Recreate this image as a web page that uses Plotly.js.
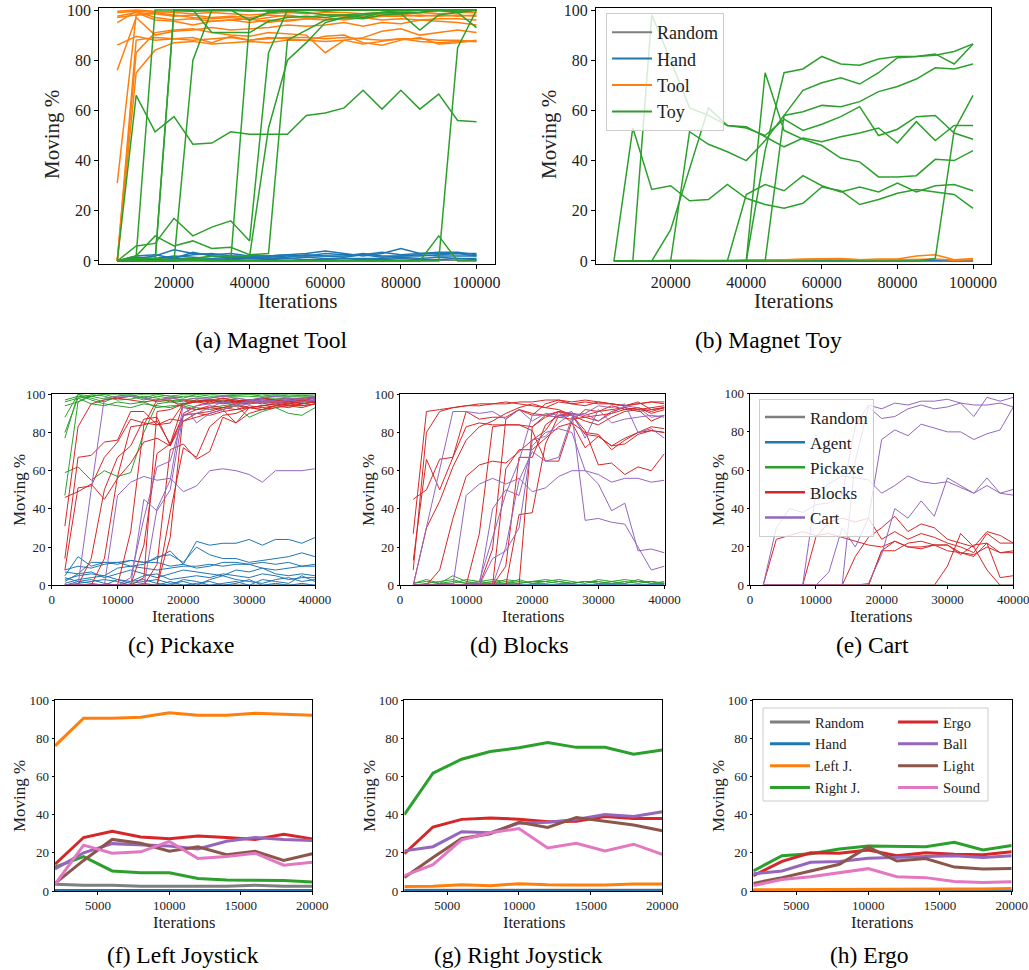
<!DOCTYPE html>
<html><head><meta charset="utf-8">
<script src="https://cdn.plot.ly/plotly-3.0.1.min.js"></script>
<style>html,body{margin:0;padding:0;background:#fff}</style>
</head><body><div id="chart" style="width:1029px;height:970px"></div>
<script>
// ---------------- x values ----------------
const X_MAG = [5000,10000,15000,20000,25000,30000,35000,40000,45000,50000,55000,60000,65000,70000,75000,80000,85000,90000,95000,100000];
const X_40 = [2000,4000,6000,8000,10000,12000,14000,16000,18000,20000,22000,24000,26000,28000,30000,32000,34000,36000,38000,40000];
const X_20 = [2000,4000,6000,8000,10000,12000,14000,16000,18000,20000];

// ---------------- tick labels ----------------
const TICKS_MAG = [20000,40000,60000,80000,100000];
const TICKS_40 = [0,10000,20000,30000,40000];
const TICKS_20 = [5000,10000,15000,20000];
const TICKS_Y = [0,20,40,60,80,100];

// ---------------- (a) Magnet Tool ----------------
const A_RANDOM = [[0.2,0.3,0.2,0.3,0.2,0.3,0.2,0.3,0.2,0.2,0.3,0.2,0.3,0.2,0.3,0.2,0.3,0.2,0.2,0.3]];
const A_HAND = [
 [0,1,2,4.5,3,2.5,3,2,2,2.5,3,4,3,2,3,5,3,3,3,3],
 [0,2,2.5,1,3.5,2,1.5,2,2,2.5,2,3,2.5,2.5,3.5,2.5,3,3.5,3.5,2.5],
 [0,0.5,1,2,1.5,1,1.5,1.5,1.5,2,2,2,2,3,2,2,2.5,2,2,2],
 [0,1,0.5,1,1,0.5,1,1,1,1,1.5,1,1,1,1,1.5,1,1.5,1,1],
 [0,0,0.5,0.5,0.5,0.5,0.5,1,0.5,1,0.5,0.5,1,0.5,0.5,1,0.5,0.5,1,0.5],
 [0,1.5,1,1.5,2.5,3,2,1.5,1,1.5,2.5,2,1.5,2.5,1.5,2,2,2.5,3,2]
];
const A_TOOL = [
 [31,98,99,99.5,99.5,99.6,99.7,99.8,99.8,99.8,99.9,99.9,99.9,100,100,100,100,100,100,100],
 [76,97,90,91.5,92,93,92,92.5,93,94,93.5,94,95,93.5,95,94.5,96,95.5,95,94],
 [86,89.5,88,88.5,88,88.5,89,88,88.5,89,89,88.5,89,88.5,88,88.5,88.5,88,88,87.5],
 [95,99.5,97,96,96.5,95.5,96,96.5,95,96,96.5,96,96.5,97,96,96.5,96,96.5,96.5,96],
 [97.5,99,96,95.5,94,95.5,96,95,96,95.5,96.5,97,96,97,97.5,97.5,98,97.5,98,97.5],
 [0,75,84,87,87.5,86.5,87,87.5,87,88,88,87.5,88,86.5,87.5,88.5,87.5,87,87.5,87.5],
 [0,83,91,92,92.5,91,90,89.5,91,90.5,90,83,88,89,91.5,92.5,90,91,92,91],
 [97,98,98.5,97.5,98,97,97.5,97,98,97.5,97,98,97.5,97,97.5,98,97.5,98,97.5,98],
 [99,99.5,99,98,97,96.5,97,96,97,98,97,98,98,97.5,98.5,98,99,98.5,99,99],
 [0,88,89,88.5,89,87,89.5,88,89,88.5,88,89.5,90,87,86,88,89,86.5,87,88],
 [99.5,100,99.5,99,98.5,99,98.5,98,98.5,99,98.5,99,99,98.5,99,99.5,99,99.5,99.5,99]
];
const A_TOY = [
 [0,66,51.5,57.5,46.5,47,51.5,50.5,50.5,50.5,58,59,61,68,60.5,68,60.5,66.5,56,55.5],
 [0,2,100,100,99.5,100,100,100,99.5,100,100,100,100,100,100,100,100,100,100,100],
 [0,0,0,100,100,100,100,96,99,99.5,99,98,98,97,99,98.5,92,98,99,93],
 [0,0,0,0,80,100,100,99.5,100,100,100,100,100,100,100,100,100,100,100,100],
 [0,0,0,100,100,91,91,91,95.5,97,97.5,97,98,98.5,99,99,99,100,99,100],
 [0,2,10,6,8,5,5.5,2.5,3,88,92,96,97,96.5,98,98.5,99,100,99,100],
 [0,6,7,17,10,13.5,16,8,83,100,100,99.5,100,100,100,100,100,100,100,100],
 [0,0,0,0,1,0.5,0,96,99,100,100,100,100,100,100,100,100,100,100,100],
 [0,1,1,0.5,1,2,2,2,53,80,87,95,97,98,99,100,100,100,100,100],
 [0,0.5,0,0,0.5,0,0,0,0,0,0,0,0,0,0,0,0,10,0,0],
 [0,0,0,0,0,0,0,0,0,0,0,0,0,0,0,0,0,0,85,100]
];

// ---------------- (b) Magnet Toy ----------------
const B_RANDOM = [[0,0,0,0,0,0,0,0,0,0,0,0,0,0,0,0,0,0,0,0]];
const B_HAND = [
 [0,0.1,0.2,0.1,0.2,0.1,0.2,0.2,0.1,0.2,0.2,0.1,0.2,0.2,0.1,0.2,0.2,0.1,0.2,0.2],
 [0,0.2,0.1,0.2,0.1,0.2,0.1,0.1,0.2,0.1,0.1,0.2,0.1,0.1,0.2,0.1,0.1,0.2,0.1,0.1]
];
const B_TOOL = [
 [0,0,0,0,0,0,0,0.5,0.5,0.5,0.8,1,1,0.5,0.8,0.8,2,2.5,0.5,1],
 [0,0,0,0,0,0.2,0.3,0.2,0.3,0.5,0.5,0.8,0.6,0.3,0.4,0.5,0.6,0.8,0.3,0.5]
];
const B_TOY = [
 [0,53,28.5,30,24,24.5,30.5,25,22.5,21,23,29.5,28,22.5,24.5,27,28.5,27.5,26.5,21],
 [0,0,98,80,61,58,54,53,50,56.5,52,54.5,57.5,61.5,50,52.5,57.5,58,51,48.5],
 [0,0,0,12.5,37,61,54,53.5,49.5,45.5,49,47.5,49.5,51,53,47,55.5,48,54,54],
 [0,0,0,0,51.5,46.5,43.5,40,48,58,59.5,62,61.5,63.5,67.5,69.5,72.5,77,76.5,78.5],
 [0,0,0,0,0,0,0,26.5,30.5,28,34,30,27.5,29.5,27.5,31,27.5,30,30.5,28],
 [0,0,0,0,0,0,0,0,75,52,48.5,46,41,39.5,33.5,33.5,34,40.5,40,44],
 [0,0,0,0,0,0,0,0,44,75,76.5,81.5,78.5,78,80.5,81.5,81.5,82,83.5,86.5],
 [0,0,0,0,0,0,0,0,0,58,68,71,73,70.5,75,81,81.5,82.5,78.5,86.5],
 [0,0,0,0,0,0,0,0,0,0,0,0,0,0,0,0,0,1,52,66]
];

// ---------------- (c) Pickaxe ----------------
const C_RANDOM = [[0.3,0.2,0.3,0.2,0.3,0.2,0.3,0.2,0.3,0.2,0.3,0.2,0.3,0.2,0.3,0.2,0.3,0.2,0.3,0.2]];
const C_AGENT = [
 [5,15,10,12,12,13,12,14,18,11,23,21,22,22,24,21,24,24,22,25],
 [8,10,9,11,12,10,11,15,16,12,20,16,14,14,12,13,14,15,17,15],
 [7,6,12,12,11,13,12,12,10,11,9,10,12,12,11,9,8,9,10,11],
 [3,5,6,5,9,10,9,8,9,10,10,11,10,11,11,12,11,12,10,10],
 [2,6,7,4,6,8,6,4,6,8,7,6,5,8,7,9,6,5,6,5],
 [1,3,4,5,3,2,5,6,3,4,5,4,6,5,4,6,5,3,4,4],
 [0,2,1,0,3,1,2,3,1,2,0,3,5,3,2,1,3,4,2,3],
 [0,1,2,3,2,0,1,0,2,0,1,2,0,1,3,0,1,0,1,0],
 [4,2,3,1,0,2,3,1,0,3,2,0,1,2,0,3,2,1,5,2]
];
const C_PICKAXE = [
 [47,96,99,100,100,99.5,100,100,99,100,100,100,99.5,100,100,100,99.5,100,100,100],
 [59,62,55,60,57,59,80,95,96,97,98,97,96,98,97,98,98,97.5,98,98.5],
 [77,100,97,95,94,93,95,94,93,95,93,92,93,94,88,91,93,90,89,93],
 [80,98,99,97.5,98,99,98,96,97,96,97,96.5,97,96,97,97.5,97,96.5,97,98],
 [88,100,99,100,98,99,97,99,98,99,99,98,99,99,99,98.5,99,99,99,99],
 [94,96,100,99,97,97.5,99,98,96,95,96,97,95.5,96,95,96,96,95,96,96],
 [97,99,98,96,99,100,98,100,99,98,100,99,99,99.5,100,99,100,99,99.5,99],
 [96,98,95,94,96,95,96,93,94,94,92,93,94,95,93,94,95,94,94,95]
];
const C_BLOCKS = [
 [31,83,95,97,98,97,96,97,98,97,96,97,98,96,97,98,97,97,98,98],
 [46,49,53,45,56,64,75,77,73,86,90,89,91,92,93,94,95,94,95,96],
 [14,67,68,75,76,91,91,84,87,86,88,90,92,85,93,92,94,95,94,95],
 [8,51,52,67,75,87,85,84,85,95,96,97,96,97,96,95,96,97,96,97],
 [0,0,14,50,67,73,87,88,73,89,92,93,92,94,93,94,95,96,95,96],
 [0,0,0,14,57,83,84,86,74,89,90,91,93,92,94,93,94,95,96,97],
 [0,0,0,0,0,28,84,97,97,93,92,94,93,95,96,97,96,95,97,96],
 [0,0,0,0,0,0,21,69,74,95,97,96,98,97,96,98,97,98,97,98],
 [0,0,0,0,0,0,0,11,71,74,66,70,88,85,90,92,94,93,95,96],
 [0,0,0,0,0,0,0,0,38,72,67,83,89,90,93,92,93,94,93,95],
 [0,0,0,0,0,0,4,91,92,95,96,95,97,96,97,96,97,96,97,97],
 [0,0,0,0,0,0,0,0,25,90,94,96,95,96,95,96,97,96,97,98]
];
const C_CART = [
 [0,0,0,0,47,54,57,55,56,49,52,60,61,60,58,54,60,60,60,61],
 [0,0,50,98,99,99,98,97,98,97,98,98,99,98,97,98,99,98,98,99],
 [0,0,0,0,0,0,45,39,50,90,94,95,96,95,96,97,96,97,96,97],
 [0,0,0,0,0,0,0,40,55,95,85,90,92,94,95,96,95,97,96,97],
 [0,0,0,0,0,4,35,62,65,89,90,93,96,94,97,96,97,98,97,98]
];

// ---------------- (d) Blocks ----------------
const D_RANDOM = [[0.2,0.2,0.3,0.2,0.2,0.3,0.2,0.2,0.3,0.2,0.2,0.3,0.2,0.2,0.3,0.2,0.2,0.3,0.2,0.2]];
const D_AGENT = [[0.3,0.2,0.4,0.3,0.2,0.3,0.4,0.3,0.2,0.3,0.4,0.3,0.2,0.3,0.4,0.3,0.2,0.3,0.4,0.3]];
const D_PICKAXE = [
 [1,3,1,5,2,1,2,1,3,1,2,3,2,1,3,2,1,3,1,2],
 [0,1,2,3,1,2,3,2,1,2,3,2,1,2,1,2,3,2,1,1],
 [1,2,1,1,3,2,1,3,2,1,1,2,1,2,2,1,2,1,2,1],
 [0,0,1,2,1,1,1,1,1,2,2,1,1,2,1,1,1,2,2,1]
];
const D_BLOCKS = [
 [27,91,92,93,94,95,95,96,95,94,93,96,95,96,95,95,94,95,96,96],
 [8,80,91,93,94,94,95,95,96,96,97,97,95,94,96,95,94,95,96,95],
 [45,50,66,67,83,85,84,84,84,83,89,91,90,89,91,92,93,91,92,93],
 [13,66,50,67,91,87,88,88,92,90,89,88,87,88,89,90,92,93,90,92],
 [0,30,44,62,76,83,86,90,93,95,93,92,89,86,84,88,91,92,86,89],
 [0,0,8,35,57,63,65,64,70,76,81,91,89,79,78,73,77,80,81,80],
 [0,0,0,0,0,27,83,84,84,81,65,65,86,92,91,94,92,93,91,93],
 [0,0,0,0,0,0,0,61,71,71,77,83,85,80,79,71,76,80,83,82],
 [0,0,0,0,0,0,0,0,37,38,74,89,89,81,63,64,58,62,60,69],
 [0,0,0,0,0,0,0,10,67,67,84,89,90,88,86,91,93,92,93,94],
 [0,0,0,0,0,0,0,0,0,83,88,91,85,72,78,73,74,79,81,80],
 [0,0,0,0,0,0,19,87,92,89,95,97,96,97,96,95,94,96,92,93]
];
const D_CART = [
 [0,30,60,91,91,90,91,87,92,86,90,89,91,77,92,85,87,88,89,88],
 [0,0,0,0,47,53,56,53,56,49,51,57,60,60,58,54,56,56,54,55],
 [0,0,0,0,0,0,40,50,47,73,80,82,80,60,53,39,43,18,19,17],
 [0,0,0,0,0,0,14,18,30,76,78,85,90,34,35,33,32,20,8,10],
 [0,0,0,0,0,0,0,20,55,70,65,67,88,90,94,93,95,80,82,77],
 [0,0,0,0,0,2,25,48,65,89,89,88,89,90,86,90,94,93,88,89]
];

// ---------------- (e) Cart ----------------
const E_RANDOM = [[0,0,0,0,0,0,0,0,0,0,0,0,0,0,0,0,0,0,0,0]];
const E_AGENT = [[0,0,0,0,0,0,0,0,0,0,0,0,0,0,0,0,0,0,0,0]];
const E_PICKAXE = [[0,0,0,0,0,0,0,0,0,0,0,0,0,0,0,0,0,0,0,0]];
const E_BLOCKS = [
 [0,24,26,28,26,27,25,23,21,20,23,20,19,21,21,17,16,20,17,18],
 [0,0,0,0,25,33,35,33,35,24,28,24,27,25,22,20,17,27,22,22],
 [0,0,0,0,0,0,0,15,25,30,36,28,32,30,24,22,20,28,26,22],
 [0,0,0,0,0,0,0,0,0,18,18,22,23,21,21,16,21,22,17,17],
 [0,0,0,0,0,0,0,0,0,18,23,20,20,21,18,17,15,22,4,5],
 [0,0,0,0,0,0,0,0,0,0,0,0,0,0,10,27,20,8,0,0]
];
const E_CART = [
 [0,30,40,38,42,43,47,83,94,92,95,94,96,96,97,95,94,94,95,93],
 [0,0,0,0,0,7,30,20,35,76,81,78,84,82,80,80,76,79,81,93],
 [0,0,0,0,48,53,57,56,55,48,52,57,54,53,54,51,48,52,48,47],
 [0,0,0,0,0,0,0,0,1,16,40,35,44,36,56,52,48,56,48,50],
 [0,0,0,0,0,0,0,65,93,87,88,92,94,92,93,95,88,98,96,98]
];

// ---------------- (f) Left Joystick ----------------
const F_RANDOM = [3.5,3,3,2.5,2.5,2.5,2.5,3,2.5,2.5];
const F_HAND   = [0.3,0.3,0.3,0.3,0.3,0.3,0.3,0.3,0.3,0.3];
const F_LEFTJ  = [76,90.5,90.5,91,93.3,92,92,93,92.5,92];
const F_RIGHTJ = [12.5,18,10.5,9.5,9.5,6.5,5.7,5.5,5.5,4.7];
const F_ERGO   = [14,28,31.3,28.3,27.3,28.8,28,27,29.7,27.3];
const F_BALL   = [11.5,20,24.8,24,23.5,22,26,28,27,26.5];
const F_LIGHT  = [4,16,27,25,20.8,23.2,19,20.8,16,19.5];
const F_SOUND  = [3.5,24,19.8,20.5,26,17,18,19.8,13.5,15];

// ---------------- (g) Right Joystick ----------------
const G_RANDOM = [0.4,0.4,0.4,0.4,0.4,0.4,0.4,0.4,0.4,0.4];
const G_HAND   = [0.2,0.2,0.2,0.2,0.2,0.2,0.2,0.2,0.2,0.2];
const G_LEFTJ  = [2.3,2.5,3.3,2.8,3.8,3.3,3.2,3.2,3.6,3.6];
const G_RIGHTJ = [40,61.7,69,73,75,77.7,75.2,75.3,71.6,73.8];
const G_ERGO   = [19.5,33.5,37.5,38.2,37.6,36.3,36.5,39,38,38];
const G_BALL   = [21,23.2,31,30.5,35.5,36,37.5,40,39,41.5];
const G_LIGHT  = [7,17.5,27.5,30,36,33.3,38.5,36.5,34.5,31.5];
const G_SOUND  = [8,13.8,26.8,30.5,32.7,22.5,25,21,24.5,19.2];

// ---------------- (h) Ergo ----------------
const H_RANDOM = [0.3,0.3,0.3,0.3,0.3,0.3,0.3,0.3,0.3,0.3];
const H_HAND   = [0.2,0.2,0.2,0.2,0.2,0.2,0.2,0.2,0.2,0.2];
const H_LEFTJ  = [0.7,0.7,0.8,0.8,0.9,0.9,1,1,1.1,1.3];
const H_RIGHTJ = [10.5,18.5,19.5,22,23.5,23.5,23.2,25.5,21.5,23.8];
const H_ERGO   = [8,15.5,20,19.8,21.5,18.5,20,19.2,19,20.5];
const H_BALL   = [9,10.5,15,15.5,17.2,17.5,18,18.5,17.5,18.5];
const H_LIGHT  = [4,7,10.5,14,23,15.7,17,12.5,11.5,11.8];
const H_SOUND  = [2.8,6,7.5,9.5,11.7,7.5,7,5,4.5,4.8];

// ---------------- styling ----------------
const W = 1029, H = 970;
const FONT = 'Liberation Serif, Times New Roman, serif';
const COL = {gray:'#7f7f7f', blue:'#1f77b4', orange:'#ff7f0e', green:'#2ca02c', red:'#d62728', purple:'#9467bd', brown:'#8c564b', pink:'#e377c2'};
const px = v => v / W;
const py = v => 1 - v / H;

const traces = [];
function sfx(k){ return k === 1 ? '' : String(k); }
function addRuns(runs, xs, k, color, width, name){
  runs.forEach(ys => traces.push({
    type:'scatter', mode:'lines', x: xs, y: ys,
    xaxis:'x'+sfx(k), yaxis:'y'+sfx(k),
    line:{color: color, width: width}, name: name,
    showlegend: false, hoverinfo:'skip'
  }));
}
function addOne(ys, xs, k, color, width, name){ addRuns([ys], xs, k, color, width, name); }
// legend key (no data points; only the legend sample)
function addKey(k, color, width, name, legend){
  traces.push({type:'scatter', mode:'lines', x:[null], y:[null], xaxis:'x'+sfx(k), yaxis:'y'+sfx(k),
    line:{color: color, width: width}, name: name, legend: legend, showlegend: true, hoverinfo:'skip'});
}

// (a)
addRuns(A_RANDOM, X_MAG, 1, COL.gray, 1.5, 'Random');
addRuns(A_HAND, X_MAG, 1, COL.blue, 1.5, 'Hand');
addRuns(A_TOOL, X_MAG, 1, COL.orange, 1.5, 'Tool');
addRuns(A_TOY, X_MAG, 1, COL.green, 1.5, 'Toy');
// (b)
addRuns(B_RANDOM, X_MAG, 2, COL.gray, 1.5, 'Random');
addRuns(B_HAND, X_MAG, 2, COL.blue, 1.5, 'Hand');
addRuns(B_TOOL, X_MAG, 2, COL.orange, 1.5, 'Tool');
addRuns(B_TOY, X_MAG, 2, COL.green, 1.5, 'Toy');
addKey(2, COL.gray, 2, 'Random', 'legend');
addKey(2, COL.blue, 2, 'Hand', 'legend');
addKey(2, COL.orange, 2, 'Tool', 'legend');
addKey(2, COL.green, 2, 'Toy', 'legend');
// (c)
addRuns(C_RANDOM, X_40, 3, COL.gray, 1, 'Random');
addRuns(C_AGENT, X_40, 3, COL.blue, 1, 'Agent');
addRuns(C_PICKAXE, X_40, 3, COL.green, 1, 'Pickaxe');
addRuns(C_BLOCKS, X_40, 3, COL.red, 1, 'Blocks');
addRuns(C_CART, X_40, 3, COL.purple, 1, 'Cart');
// (d)
addRuns(D_RANDOM, X_40, 4, COL.gray, 1, 'Random');
addRuns(D_AGENT, X_40, 4, COL.blue, 1, 'Agent');
addRuns(D_PICKAXE, X_40, 4, COL.green, 1, 'Pickaxe');
addRuns(D_BLOCKS, X_40, 4, COL.red, 1, 'Blocks');
addRuns(D_CART, X_40, 4, COL.purple, 1, 'Cart');
// (e)
addRuns(E_RANDOM, X_40, 5, COL.gray, 1, 'Random');
addRuns(E_AGENT, X_40, 5, COL.blue, 1, 'Agent');
addRuns(E_PICKAXE, X_40, 5, COL.green, 1, 'Pickaxe');
addRuns(E_BLOCKS, X_40, 5, COL.red, 1, 'Blocks');
addRuns(E_CART, X_40, 5, COL.purple, 1, 'Cart');
addKey(5, COL.gray, 2.5, 'Random', 'legend2');
addKey(5, COL.blue, 2.5, 'Agent', 'legend2');
addKey(5, COL.green, 2.5, 'Pickaxe', 'legend2');
addKey(5, COL.red, 2.5, 'Blocks', 'legend2');
addKey(5, COL.purple, 2.5, 'Cart', 'legend2');
// (f)
const LW = 3;
addOne(F_RANDOM, X_20, 6, COL.gray, LW, 'Random');
addOne(F_HAND, X_20, 6, COL.blue, LW, 'Hand');
addOne(F_LEFTJ, X_20, 6, COL.orange, LW, 'Left J.');
addOne(F_RIGHTJ, X_20, 6, COL.green, LW, 'Right J.');
addOne(F_ERGO, X_20, 6, COL.red, LW, 'Ergo');
addOne(F_BALL, X_20, 6, COL.purple, LW, 'Ball');
addOne(F_LIGHT, X_20, 6, COL.brown, LW, 'Light');
addOne(F_SOUND, X_20, 6, COL.pink, LW, 'Sound');
// (g)
addOne(G_RANDOM, X_20, 7, COL.gray, LW, 'Random');
addOne(G_HAND, X_20, 7, COL.blue, LW, 'Hand');
addOne(G_LEFTJ, X_20, 7, COL.orange, LW, 'Left J.');
addOne(G_RIGHTJ, X_20, 7, COL.green, LW, 'Right J.');
addOne(G_ERGO, X_20, 7, COL.red, LW, 'Ergo');
addOne(G_BALL, X_20, 7, COL.purple, LW, 'Ball');
addOne(G_LIGHT, X_20, 7, COL.brown, LW, 'Light');
addOne(G_SOUND, X_20, 7, COL.pink, LW, 'Sound');
// (h)
addOne(H_RANDOM, X_20, 8, COL.gray, LW, 'Random');
addOne(H_HAND, X_20, 8, COL.blue, LW, 'Hand');
addOne(H_LEFTJ, X_20, 8, COL.orange, LW, 'Left J.');
addOne(H_RIGHTJ, X_20, 8, COL.green, LW, 'Right J.');
addOne(H_ERGO, X_20, 8, COL.red, LW, 'Ergo');
addOne(H_BALL, X_20, 8, COL.purple, LW, 'Ball');
addOne(H_LIGHT, X_20, 8, COL.brown, LW, 'Light');
addOne(H_SOUND, X_20, 8, COL.pink, LW, 'Sound');
addKey(8, COL.gray, LW, 'Random', 'legend3');
addKey(8, COL.blue, LW, 'Hand', 'legend3');
addKey(8, COL.orange, LW, 'Left J.', 'legend3');
addKey(8, COL.green, LW, 'Right J.', 'legend3');
addKey(8, COL.red, LW, 'Ergo', 'legend4');
addKey(8, COL.purple, LW, 'Ball', 'legend4');
addKey(8, COL.brown, LW, 'Light', 'legend4');
addKey(8, COL.pink, LW, 'Sound', 'legend4');

// ---------------- panels (pixel boxes) ----------------
const PANELS = [
 {k:1, x:[99.3,494.5], y:[7.5,263.5], xr:[250,104750], yr:[-1,101], xt:TICKS_MAG, fs:16, tl:4},
 {k:2, x:[596,991],    y:[7.5,263.5], xr:[250,104750], yr:[-1,101], xt:TICKS_MAG, fs:16, tl:4},
 {k:3, x:[51.7,315],   y:[394.3,585.3], xr:[0,40000], yr:[0,100], xt:TICKS_40, fs:13, tl:2.5},
 {k:4, x:[400,664.5],  y:[394.3,585.3], xr:[0,40000], yr:[0,100], xt:TICKS_40, fs:13, tl:2.5},
 {k:5, x:[750,1013.3], y:[393.5,585.3], xr:[0,40000], yr:[0,100], xt:TICKS_40, fs:13, tl:2.5},
 {k:6, x:[55,312.3],   y:[700,891], xr:[2000,20000], yr:[0,100], xt:TICKS_20, fs:13, tl:2.5},
 {k:7, x:[404.3,662.3],y:[700,891], xr:[2000,20000], yr:[0,100], xt:TICKS_20, fs:13, tl:2.5},
 {k:8, x:[753.3,1011.7],y:[700,891], xr:[2000,20000], yr:[0,100], xt:TICKS_20, fs:13, tl:2.5}
];

const layout = {
  width: W, height: H, margin:{l:0,r:0,t:0,b:0},
  paper_bgcolor:'#ffffff', plot_bgcolor:'#ffffff',
  showlegend: true, hovermode: false,
  font:{family: FONT, color:'#222'},
  annotations: [], shapes: []
};
PANELS.forEach(p => {
  const s = sfx(p.k);
  const common = {ticks:'outside', ticklen:p.tl, tickwidth:1, tickcolor:'#000', showline:true, linecolor:'#000', linewidth:1,
    mirror:true, showgrid:false, zeroline:false, ticklabeloverflow:'allow',
    tickfont:{family:FONT, size:p.fs, color:'#222'}, fixedrange:true};
  layout['xaxis'+s] = Object.assign({}, common, {domain:[px(p.x[0]), px(p.x[1])], range:p.xr, anchor:'y'+s,
    tickmode:'array', tickvals:p.xt, ticktext:p.xt.map(String)});
  layout['yaxis'+s] = Object.assign({}, common, {domain:[py(p.y[1]), py(p.y[0])], range:p.yr, anchor:'x'+s,
    tickmode:'array', tickvals:TICKS_Y, ticktext:TICKS_Y.map(String)});
});

// axis titles as annotations: [text, x, y, size, angle]
const AXIS_TITLES = [
  ['Iterations', 297, 301, 21, 0], ['Moving %', 52, 135, 21, -90],
  ['Iterations', 793, 301, 21, 0], ['Moving %', 549, 135, 21, -90],
  ['Iterations', 183, 616, 16.5, 0], ['Moving %', 19, 490, 17, -90],
  ['Iterations', 533, 616, 16.5, 0], ['Moving %', 368, 490, 17, -90],
  ['Iterations', 881, 616, 16.5, 0], ['Moving %', 718, 490, 17, -90],
  ['Iterations', 184, 922, 16.5, 0], ['Moving %', 19, 796, 17, -90],
  ['Iterations', 534, 922, 16.5, 0], ['Moving %', 369, 796, 17, -90],
  ['Iterations', 882, 922, 16.5, 0], ['Moving %', 718, 796, 17, -90]
];
AXIS_TITLES.forEach(t => layout.annotations.push({text:t[0], xref:'paper', yref:'paper', x:px(t[1]), y:py(t[2]),
  xanchor:'center', yanchor:'middle', showarrow:false, textangle:t[4], font:{family:FONT, size:t[3], color:'#222'}}));

const CAPTIONS = [
  ['(a) Magnet Tool', 271, 340], ['(b) Magnet Toy', 768, 340],
  ['(c) Pickaxe', 181, 645], ['(d) Blocks', 519, 645], ['(e) Cart', 872, 645],
  ['(f) Left Joystick', 183, 955], ['(g) Right Joystick', 518, 955], ['(h) Ergo', 869, 955]
];
CAPTIONS.forEach(c => layout.annotations.push({text:c[0], xref:'paper', yref:'paper', x:px(c[1]), y:py(c[2]),
  xanchor:'center', yanchor:'middle', showarrow:false, font:{family:FONT, size:23.5, color:'#000'}}));

// legends
layout.legend = {x:px(606), y:py(13), xanchor:'left', yanchor:'top', bgcolor:'rgba(255,255,255,0.8)',
  bordercolor:'#cccccc', borderwidth:1, font:{family:FONT, size:18, color:'#222'}, itemwidth:40, tracegroupgap:0};
layout.legend2 = {x:px(759), y:py(398.5), xanchor:'left', yanchor:'top', bgcolor:'rgba(255,255,255,0.8)',
  bordercolor:'#cccccc', borderwidth:1, font:{family:FONT, size:17, color:'#222'}, itemwidth:40, tracegroupgap:0};
layout.legend3 = {x:px(765), y:py(706), xanchor:'left', yanchor:'top', bgcolor:'rgba(0,0,0,0)',
  borderwidth:0, font:{family:FONT, size:14.5, color:'#222'}, itemwidth:40, tracegroupgap:0};
layout.legend4 = {x:px(893), y:py(706), xanchor:'left', yanchor:'top', bgcolor:'rgba(0,0,0,0)',
  borderwidth:0, font:{family:FONT, size:14.5, color:'#222'}, itemwidth:40, tracegroupgap:0};
layout.shapes.push({type:'rect', xref:'paper', yref:'paper', x0:px(763), x1:px(988), y0:py(801), y1:py(708),
  fillcolor:'rgba(255,255,255,0.8)', line:{color:'#cccccc', width:1}, layer:'above'});

Plotly.newPlot('chart', traces, layout, {displayModeBar:false, staticPlot:true});
</script>
</body></html>
